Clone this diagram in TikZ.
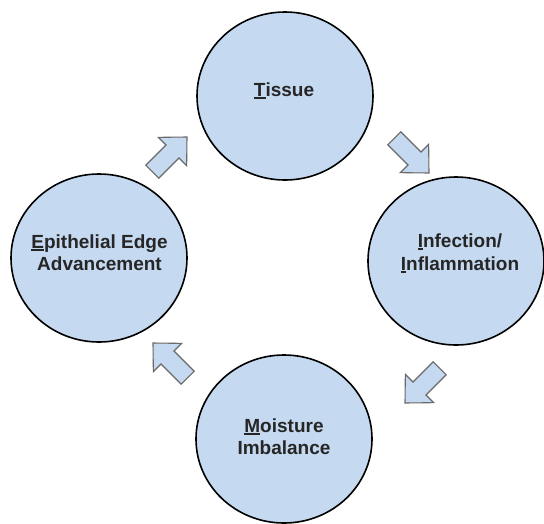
\documentclass[tikz,border=0pt]{standalone}
\usepackage{fontspec}
\setmainfont{Liberation Sans}
\usetikzlibrary{shapes.geometric}
\definecolor{cfill}{RGB}{197,217,240}
\definecolor{aline}{RGB}{105,105,105}
\definecolor{tcol}{RGB}{38,38,38}
\newcommand\firstul[1]{\setbox0\hbox{#1}\rlap{\rule[-2.8pt]{\wd0}{1.5pt}}\box0}
\tikzset{
  ell/.style={ellipse, draw=black, line width=1.6pt, fill=cfill, minimum width=176pt, minimum height=168pt, inner sep=0pt},
  lbl/.style={font=\fontsize{19}{22.5}\selectfont\bfseries, text=tcol, inner sep=0pt, anchor=base},
  blockarrow/.style={draw=aline, fill=cfill, line width=1.1pt, line join=miter}
}
\newcommand\blockarrowpath{(0pt,0pt) -- (-20.5pt,20pt) -- (-20.5pt,9.2pt) -- (-49pt,9.2pt) -- (-49pt,-9.2pt) -- (-20.5pt,-9.2pt) -- (-20.5pt,-20pt) -- cycle}
\begin{document}
\begin{tikzpicture}[x=1pt,y=-1pt]
\useasboundingbox (0,0) rectangle (544,523);
\fill[white] (0,0) rectangle (544,523);
% circles
\node[ell] (tissue) at (285,96) {};
\node[ell] (epi) at (99,258) {};
\node[ell] (inf) at (456,261) {};
\node[ell] (moist) at (284,439) {};
% labels
\node[lbl] (tissuet) at (284,96) {\firstul{T}issue};
\node[lbl] (epit1) at (99.5,248) {\firstul{E}pithelial Edge};
\node[lbl] (epit2) at (99.5,270.5) {Advancement};
\node[lbl] (inft1) at (460,247) {\firstul{I}nfection/};
\node[lbl] (inft2) at (460,270) {\firstul{I}nflammation};
\node[lbl] (moist1) at (284,432) {\firstul{M}oisture};
\node[lbl] (moist2) at (284,454.5) {Imbalance};
% arrows
\coordinate (a1) at (187,137);
\coordinate (a2) at (429,173);
\coordinate (a3) at (405,403);
\coordinate (a4) at (153,343);
\draw[blockarrow, shift={(a1)}, rotate=45] \blockarrowpath;
\draw[blockarrow, shift={(a2)}, rotate=-45] \blockarrowpath;
\draw[blockarrow, shift={(a3)}, rotate=-135] \blockarrowpath;
\draw[blockarrow, shift={(a4)}, rotate=135] \blockarrowpath;
\end{tikzpicture}
\end{document}
